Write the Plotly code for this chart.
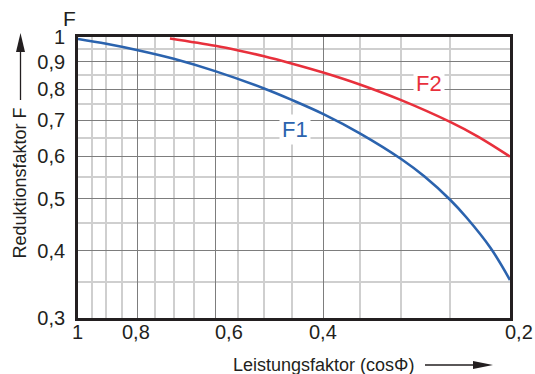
import numpy as np
import plotly.graph_objects as go

# Power factor (cos phi) values and reduction factors
f1_cosphi = [1.0, 0.9, 0.8, 0.7, 0.6, 0.5, 0.45, 0.4, 0.35, 0.3, 0.275, 0.25, 0.235, 0.215, 0.2]
f1_factor = [0.9915, 0.9715, 0.945, 0.911, 0.864, 0.802, 0.763, 0.718, 0.662, 0.593, 0.55, 0.498, 0.461, 0.405, 0.353]

f2_cosphi = [0.71, 0.6, 0.55, 0.5, 0.45, 0.4, 0.35, 0.3, 0.25, 0.225, 0.2]
f2_factor = [0.9936, 0.963, 0.944, 0.921, 0.892, 0.858, 0.816, 0.763, 0.695, 0.652, 0.599]

# Axis ticks (major = labelled, minor = grid only)
x_major = [1.0, 0.8, 0.6, 0.4, 0.2]
x_major_text = ["1", "0,8", "0,6", "0,4", "0,2"]
x_minor = [0.95, 0.9, 0.85, 0.75, 0.7, 0.65, 0.55, 0.5, 0.45, 0.35, 0.3, 0.25]
y_major = [1.0, 0.9, 0.8, 0.7, 0.6, 0.5, 0.4, 0.3]
y_major_text = ["1", "0,9", "0,8", "0,7", "0,6", "0,5", "0,4", "0,3"]
y_minor = [0.95, 0.85, 0.75, 0.65, 0.55, 0.45, 0.35]

W, H = 535, 374
L, R, T, B = 78, 25, 37, 56
PW, PH = W - L - R, H - T - B

INK = "#231f20"
BLUE = "#2b63ae"
RED = "#e8303c"
FONT = "Liberation Sans, Arial, Helvetica, sans-serif"


def px(xp):
    return (xp - L) / PW


def py(yp):
    return (H - B - yp) / PH


fig = go.Figure()
fig.add_trace(go.Scatter(x=f1_cosphi, y=f1_factor, mode="lines",
                         line=dict(color=BLUE, width=2.6, shape="spline", smoothing=1.0),
                         hoverinfo="skip", showlegend=False))
fig.add_trace(go.Scatter(x=f2_cosphi, y=f2_factor, mode="lines",
                         line=dict(color=RED, width=2.6, shape="spline", smoothing=1.0),
                         hoverinfo="skip", showlegend=False))

grid_major = dict(color="#7d7d7d", width=1.4)
grid_minor = dict(color="#cfcfcf", width=1.6)

fig.update_xaxes(type="log", range=[0, np.log10(0.2)],
                 tickvals=x_major, showticklabels=False, ticks="",
                 showgrid=True, gridcolor=grid_major["color"], gridwidth=grid_major["width"],
                 minor=dict(tickvals=x_minor, showgrid=True, gridcolor=grid_minor["color"],
                            gridwidth=grid_minor["width"], ticks=""),
                 showline=True, linecolor=INK, linewidth=2.8, mirror=True, zeroline=False)
fig.update_yaxes(type="log", range=[np.log10(0.3), 0],
                 tickvals=y_major, ticktext=y_major_text, ticks="",
                 ticklabelstandoff=6,
                 tickfont=dict(size=20, color=INK, family=FONT),
                 showgrid=True, gridcolor=grid_major["color"], gridwidth=grid_major["width"],
                 minor=dict(tickvals=y_minor, showgrid=True, gridcolor=grid_minor["color"],
                            gridwidth=grid_minor["width"], ticks=""),
                 showline=True, linecolor=INK, linewidth=2.8, mirror=True, zeroline=False)

annotations = []
# x tick labels placed on the log axis
x_label_shift = {"1": -1, "0,8": -2, "0,6": 14, "0,4": -1, "0,2": 9}
for v, t in zip(x_major, x_major_text):
    annotations.append(dict(x=np.log10(v), xref="x", y=0, yref="paper", text=t,
                            showarrow=False, xanchor="center", yanchor="top",
                            yshift=-1, xshift=x_label_shift[t],
                            font=dict(size=20, color=INK, family=FONT)))

# curve labels with white backing
annotations.append(dict(x=px(295), y=py(129), xref="paper", yref="paper", text="F1",
                        showarrow=False, bgcolor="white", borderpad=2,
                        xanchor="center", yanchor="middle",
                        font=dict(size=22, color=BLUE, family=FONT)))
annotations.append(dict(x=px(429), y=py(83), xref="paper", yref="paper", text="F2",
                        showarrow=False, bgcolor="white", borderpad=2,
                        xanchor="center", yanchor="middle",
                        font=dict(size=22, color=RED, family=FONT)))

# axis titles
annotations.append(dict(x=px(69), y=py(18), xref="paper", yref="paper", text="F",
                        showarrow=False, xanchor="center", yanchor="middle",
                        font=dict(size=21, color=INK, family=FONT)))
annotations.append(dict(x=px(19.5), y=py(183), xref="paper", yref="paper",
                        text="Reduktionsfaktor F", textangle=-90, showarrow=False,
                        xanchor="center", yanchor="middle",
                        font=dict(size=18, color=INK, family=FONT)))
annotations.append(dict(x=px(231), y=py(365), xref="paper", yref="paper",
                        text="Leistungsfaktor (cosΦ)", xanchor="left", yanchor="middle",
                        showarrow=False,
                        font=dict(size=18, color=INK, family=FONT)))

shapes = [
    # upward arrow beside the y title
    dict(type="line", xref="paper", yref="paper", x0=px(20.5), x1=px(20.5),
         y0=py(100), y1=py(50), line=dict(color=INK, width=1.3)),
    dict(type="path", xref="paper", yref="paper",
         path=f"M {px(16)} {py(52)} L {px(25)} {py(52)} L {px(20.5)} {py(33)} Z",
         fillcolor=INK, line=dict(width=0)),
    # rightward arrow after the x title
    dict(type="line", xref="paper", yref="paper", x0=px(425), x1=px(476),
         y0=py(365), y1=py(365), line=dict(color=INK, width=1.3)),
    dict(type="path", xref="paper", yref="paper",
         path=f"M {px(473)} {py(361)} L {px(473)} {py(369)} L {px(493)} {py(365)} Z",
         fillcolor=INK, line=dict(width=0)),
]

fig.update_layout(width=W, height=H, margin=dict(l=L, r=R, t=T, b=B),
                  paper_bgcolor="white", plot_bgcolor="white",
                  annotations=annotations, shapes=shapes,
                  font=dict(family=FONT, color=INK))

fig.write_html("out.html")
